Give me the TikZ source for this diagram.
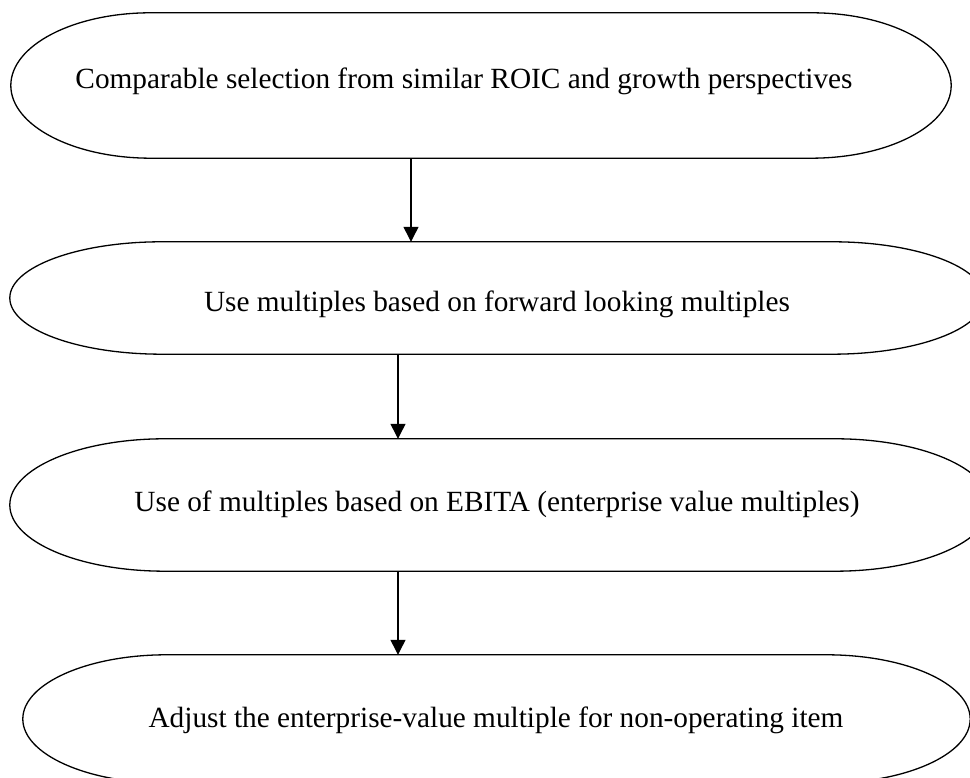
\documentclass[tikz,border=0pt]{standalone}
\usepackage{fontspec}
\setmainfont{Liberation Serif}
\usepackage{tikz}
\usetikzlibrary{arrows.meta, calc}
\tikzset{
  stepframe/.style = {
    rectangle, 
    draw=none, 
    inner sep=0pt
  },
  steptext/.style = {
    anchor=base, 
    inner sep=0pt, 
    font=\fontsize{29.3}{35}\selectfont
  },
  outline/.style = {
    draw=black, 
    line width=1.3pt
  },
  flowarrow/.style = {
    -{Triangle[length=15pt, width=15pt]}, 
    line width=1.3pt, 
    draw=black
  }
}
% flat top and bottom, elliptic ends: #1 node, #2 end radius
\newcommand{\stadiumline}[2]{%
  \draw[outline] let \p1 = (#1.north), \p2 = (#1.south), \n1 = {(\y1-\y2)/2} in
    ([xshift=#2]#1.north west) -- ([xshift=-#2]#1.north east)
    arc[start angle=90, end angle=-90, x radius=#2, y radius=\n1]
    -- ([xshift=#2]#1.south west)
    arc[start angle=270, end angle=90, x radius=#2, y radius=\n1];
}

\begin{document}
\begin{tikzpicture}[x=1pt, y=1pt]
  \useasboundingbox (0,0) rectangle (970,778);

  % Step frames
  \node[stepframe, minimum width=940pt, minimum height=145pt] at (481,692.5) (box1) {};
  \node[stepframe, minimum width=974pt, minimum height=112pt] at (497,480) (box2) {};
  \node[stepframe, minimum width=980pt, minimum height=132pt] at (500,273) (box3) {};
  \node[stepframe, minimum width=947pt, minimum height=128pt] at (496.5,59) (box4) {};

  \stadiumline{box1}{140pt}
  \stadiumline{box2}{152pt}
  \stadiumline{box3}{155pt}
  \stadiumline{box4}{144pt}

  % Step texts
  \node[steptext] at (464,689) (txt1) {Comparable selection from similar ROIC and growth perspectives};
  \node[steptext] at (497,466) (txt2) {Use multiples based on forward looking multiples};
  \node[steptext] at (497,266) (txt3) {Use of multiples based on EBITA (enterprise value multiples)};
  \node[steptext] at (496,50) (txt4) {Adjust the enterprise-value multiple for non-operating item};

  % Arrows
  \draw[flowarrow] (box1.south -| 411,0) -- (box2.north -| 411,0);
  \draw[flowarrow] (box2.south -| 398,0) -- (box3.north -| 398,0);
  \draw[flowarrow] (box3.south -| 398,0) -- (box4.north -| 398,0);
\end{tikzpicture}
\end{document}
